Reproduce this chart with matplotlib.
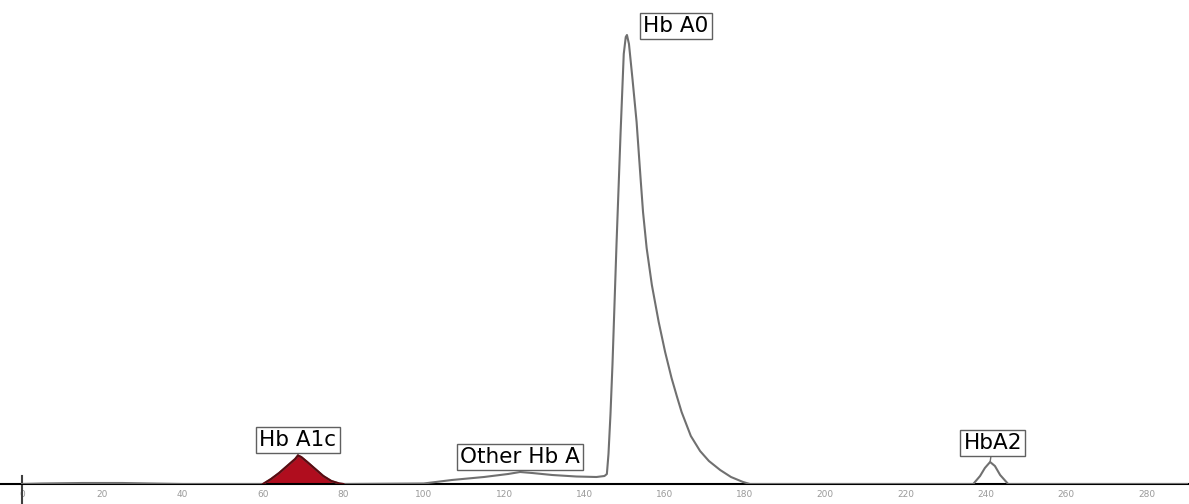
import matplotlib
matplotlib.use("Agg")
import matplotlib.pyplot as plt

# Hb A1c area (filled)
a1c_x = [60, 62, 64, 66, 68, 68.7, 69.5, 71, 73, 75, 77, 79, 80]
a1c_y = [0, 5, 11, 18, 25, 28.5, 27, 22, 15, 8, 3, 0.5, 0]

# rest of the chromatogram trace (time, signal)
trace_x = [0, 5, 15, 25, 32, 40, 58] + a1c_x + [
    100, 107, 115, 121, 124, 127, 132, 138, 143, 145, 145.6, 146.0, 146.5, 147.0,
    148.0, 149.0, 149.8, 150.3, 150.6, 151.1, 152.0, 153.0, 154.0, 154.6, 155.5,
    156.8, 158.5, 160.1, 161.7, 163.0, 164.2, 166.5, 168.8, 171.0, 173.8, 176.5,
    179.5, 181.2, 236.8, 238.5, 239.7, 241.0, 242.2, 243.5, 245.5, 290]
trace_y = [0, 0.5, 1, 1, 0.5, 0, 0] + a1c_y + [
    0.5, 4, 7, 10, 12, 11, 9, 7.5, 7, 8, 10, 30, 70, 120,
    240, 350, 430, 447, 449, 440, 404, 362, 305, 272, 236,
    199, 162, 132, 106, 88, 72, 48, 33, 23, 14, 7,
    2, 0, 0, 8, 16, 22, 18, 9, 0, 0]

peak_names = ["Hb A1c", "Other Hb A", "Hb A0", "HbA2"]
peak_x = [68.7, 124.0, 150.6, 241.0]
peak_y = [28.5, 12, 449, 22]
label_x = [68.7, 124.0, 162.8, 241.7]
label_y = [44, 27, 458, 41]

fig = plt.figure(figsize=(11.89, 5.04), dpi=100)
ax = fig.add_axes([0, 20 / 504, 1, 484 / 504])

ax.plot(trace_x, trace_y, color="#707070", lw=1.5, zorder=3)
ax.fill_between(a1c_x, 0, a1c_y, color="#b00d1e", zorder=2)
ax.plot(a1c_x, a1c_y, color="#5c0a10", lw=1.5, zorder=4)

box = dict(boxstyle="square,pad=0.15", fc="white", ec="#606060", lw=1)
for name, px, py, lx, ly in zip(peak_names, peak_x, peak_y, label_x, label_y):
    if name == "Hb A0":
        ax.text(lx, ly, name, ha="center", va="center", fontsize=15.5,
                family="DejaVu Sans", bbox=box)
    else:
        ax.annotate(name, xy=(px, py), xytext=(lx, ly), ha="center", va="center",
                    fontsize=15.5, family="DejaVu Sans", bbox=box,
                    arrowprops=dict(arrowstyle="-", color="#707070", lw=1,
                                    shrinkA=0, shrinkB=0))

ax.set_xlim(-22 / 4.017, 1167 / 4.017)
ax.set_ylim(0, 484)

for s in ["top", "right", "left"]:
    ax.spines[s].set_visible(False)
ax.spines["bottom"].set_color("black")
ax.spines["bottom"].set_linewidth(1.5)
ax.plot([0, 0], [-20, 8], color="#404040", lw=1.5, clip_on=False)

ax.set_xticks(range(0, 281, 20))
ax.set_xticklabels([str(t) for t in range(0, 281, 20)])
ax.tick_params(axis="x", length=0, pad=4, labelsize=6.5, labelcolor="#9a9a9a")
ax.set_yticks([])

fig.savefig("out.png", dpi=100)
